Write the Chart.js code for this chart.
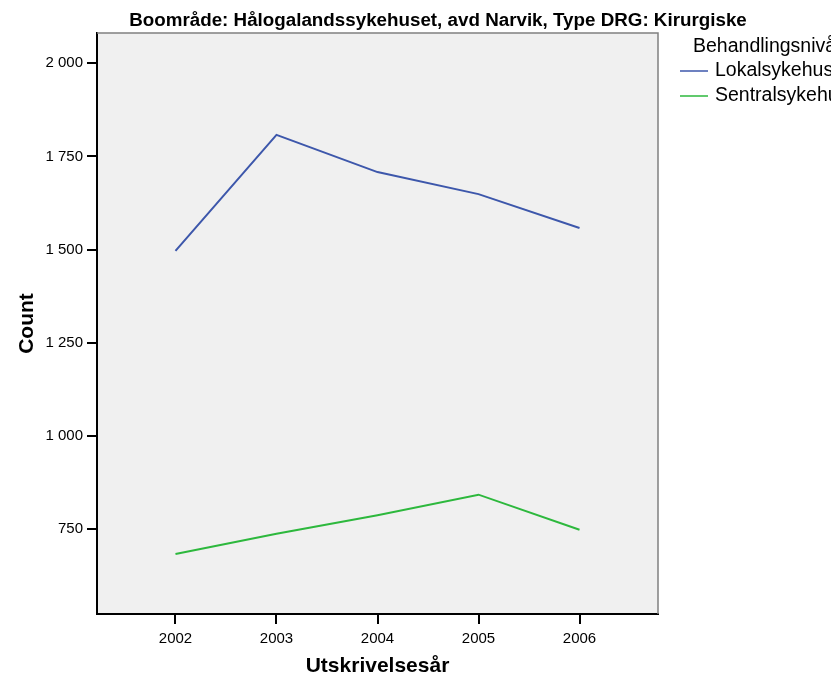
<!DOCTYPE html>
<html>
<head>
<meta charset="utf-8">
<script src="https://cdn.jsdelivr.net/npm/chart.js@4/dist/chart.umd.min.js"></script>
<style>
  html, body { margin: 0; padding: 0; background: #fff; }
  #wrap { width: 831px; height: 677px; }
</style>
</head>
<body>
<div id="wrap"><canvas id="myChart" width="831" height="677"></canvas></div>
<script>
const years = [2002, 2003, 2004, 2005, 2006];
const lokalsykehus = [1497, 1808, 1708, 1649, 1558];
const sentralsykehus = [684, 738, 788, 843, 749];
const yTicks = [750, 1000, 1250, 1500, 1750, 2000];
const seriesNames = ["Lokalsykehus", "Sentralsykehus"];
const seriesColors = ["#3d57ab", "#2db83d"];

const FONT = "'Liberation Sans', Arial, sans-serif";

function fmt(v) {
  return v.toString().replace(/\B(?=(\d{3})+(?!\d))/g, " ");
}

// background, frame, title and legend
const decor = {
  id: "decor",
  beforeDraw(chart) {
    const { ctx, chartArea: a } = chart;
    ctx.save();
    ctx.fillStyle = "#f0f0f0";
    ctx.fillRect(a.left, a.top, a.right - a.left, a.bottom - a.top);
    ctx.restore();
  },
  afterDraw(chart) {
    const { ctx, chartArea: a } = chart;
    ctx.save();
    // thin grey top / right frame
    ctx.strokeStyle = "#808080";
    ctx.lineWidth = 1.5;
    ctx.beginPath();
    ctx.moveTo(a.left, a.top);
    ctx.lineTo(a.right, a.top);
    ctx.lineTo(a.right, a.bottom);
    ctx.stroke();

    ctx.fillStyle = "#000";
    ctx.font = "bold 18.8px " + FONT;
    ctx.textAlign = "center";
    ctx.textBaseline = "middle";
    ctx.fillText("Boområde: Hålogalandssykehuset, avd Narvik, Type DRG: Kirurgiske", 438, 21);

    ctx.font = "19.5px " + FONT;
    ctx.textAlign = "left";
    ctx.fillText("Behandlingsnivå", 693, 47);
    seriesNames.forEach((name, i) => {
      const y = 71 + i * 25;
      ctx.strokeStyle = seriesColors[i];
      ctx.lineWidth = 1.5;
      ctx.beginPath();
      ctx.moveTo(680, y);
      ctx.lineTo(708, y);
      ctx.stroke();
      ctx.fillText(name, 715, y);
    });
    ctx.restore();
  }
};

new Chart(document.getElementById("myChart"), {
  type: "line",
  data: {
    datasets: [
      {
        label: seriesNames[0],
        data: years.map((y, i) => ({ x: y, y: lokalsykehus[i] })),
        borderColor: seriesColors[0],
        borderWidth: 2,
        pointRadius: 0,
        tension: 0
      },
      {
        label: seriesNames[1],
        data: years.map((y, i) => ({ x: y, y: sentralsykehus[i] })),
        borderColor: seriesColors[1],
        borderWidth: 2,
        pointRadius: 0,
        tension: 0
      }
    ]
  },
  options: {
    responsive: false,
    animation: false,
    events: [],
    layout: { padding: { top: 33, right: 173, left: 0, bottom: 0 } },
    plugins: {
      legend: { display: false },
      title: { display: false },
      tooltip: { enabled: false }
    },
    scales: {
      x: {
        type: "linear",
        min: 2001.223,
        max: 2006.777,
        afterBuildTicks: (scale) => {
          scale.ticks = years.map((v) => ({ value: v }));
        },
        afterFit: (scale) => { scale.height = 63; },
        border: { color: "#000", width: 2 },
        grid: { drawOnChartArea: false, drawTicks: true, tickLength: 10, color: "#000", lineWidth: 2 },
        ticks: {
          color: "#000",
          font: { family: FONT, size: 15 },
          padding: 6,
          maxRotation: 0,
          callback: (v) => String(v)
        },
        title: {
          display: true,
          text: "Utskrivelsesår",
          color: "#000",
          font: { family: FONT, size: 21, weight: "bold", lineHeight: 1.0 },
          padding: { top: 0, bottom: 0 }
        }
      },
      y: {
        type: "linear",
        min: 523,
        max: 2081,
        afterBuildTicks: (scale) => {
          scale.ticks = yTicks.map((v) => ({ value: v }));
        },
        afterFit: (scale) => { scale.width = 97; },
        border: { color: "#000", width: 2 },
        grid: { drawOnChartArea: false, drawTicks: true, tickLength: 10, color: "#000", lineWidth: 2 },
        ticks: {
          color: "#000",
          font: { family: FONT, size: 15 },
          padding: 4,
          callback: (v) => fmt(v)
        },
        title: {
          display: true,
          text: "Count",
          color: "#000",
          font: { family: FONT, size: 21, weight: "bold", lineHeight: 1.0 },
          padding: { top: 17, bottom: 0 }
        }
      }
    }
  },
  plugins: [decor]
});
</script>
</body>
</html>
